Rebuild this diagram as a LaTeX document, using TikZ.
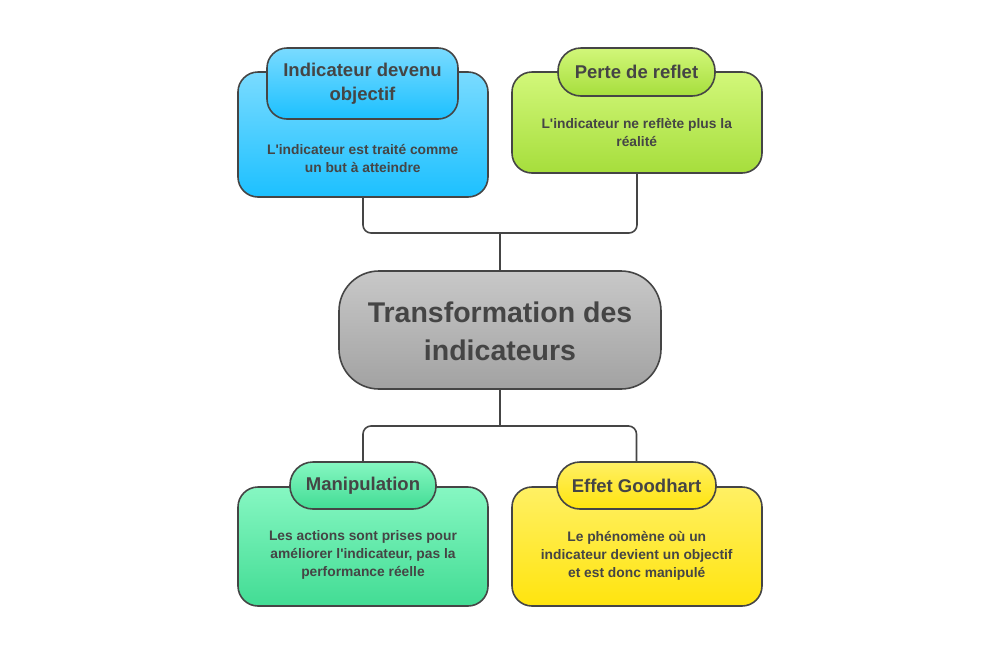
\documentclass[tikz,border=0pt]{standalone}
\usepackage{fontspec}
\setmainfont{Liberation Sans}
\usetikzlibrary{calc}
\definecolor{ink}{HTML}{454545}
\definecolor{skyA}{HTML}{7ADBFF}
\definecolor{skyB}{HTML}{1CC0FF}
\definecolor{limeA}{HTML}{D2F77A}
\definecolor{limeB}{HTML}{A6DE3C}
\definecolor{mintA}{HTML}{86F7C2}
\definecolor{mintB}{HTML}{42DC94}
\definecolor{sunA}{HTML}{FFF064}
\definecolor{sunB}{HTML}{FFE40E}
\definecolor{greyA}{HTML}{C8C8C8}
\definecolor{greyB}{HTML}{A2A2A2}
\begin{document}
\begin{tikzpicture}[x=1pt,y=-1pt,
  box/.style={draw=ink,line width=1.6pt,rounded corners=20pt,inner sep=0pt},
  tab/.style={box,text=ink,align=center,font=\bfseries\fontsize{18.5}{24}\selectfont},
  note/.style={text=ink,align=center,font=\bfseries\fontsize{13.8}{18}\selectfont},
  wire/.style={draw=ink,line width=1.6pt,rounded corners=8pt},
  ]
\useasboundingbox (0,0) rectangle (1004,654);

\coordinate (topjoin) at (500,233);
\coordinate (lowjoin) at (500,426);

\node[box,rounded corners=40pt,top color=greyA,bottom color=greyB,
  minimum width=322pt,minimum height=118pt] (core) at (500,330) {};
\node[text=ink,align=center,font=\bfseries\fontsize{28.5}{38}\selectfont]
  at ($(core)+(0,1)$) {Transformation des\\indicateurs};

\node[box,top color=skyA,bottom color=skyB,minimum width=250pt,minimum height=125pt] (tlbox) at (363,134.5) {};
\node[tab,top color=skyA,bottom color=skyB,minimum width=191pt,minimum height=71pt] (tltab) at (362.5,83.5) {Indicateur devenu\\objectif};
\node[note] at ($(tltab.south)!0.5!(tlbox.south)$) {L\textquotesingle indicateur est traité comme\\un but à atteindre};

\node[box,top color=limeA,bottom color=limeB,minimum width=250pt,minimum height=101pt] (trbox) at (637,122.5) {};
\node[tab,rounded corners=23pt,top color=limeA,bottom color=limeB,minimum width=157pt,minimum height=48pt] (trtab) at (636.5,72) {Perte de reflet};
\node[note] at ($(trtab.south)!0.47!(trbox.south)$) {L\textquotesingle indicateur ne reflète plus la\\réalité};

\node[box,top color=mintA,bottom color=mintB,minimum width=250pt,minimum height=119pt] (blbox) at (363,546.5) {};
\node[tab,rounded corners=23pt,top color=mintA,bottom color=mintB,minimum width=146pt,minimum height=47pt] (bltab) at (363,485.5) {Manipulation};
\node[note] at ($(bltab.south)!0.47!(blbox.south)$) {Les actions sont prises pour\\améliorer l\textquotesingle indicateur, pas la\\performance réelle};

\node[box,top color=sunA,bottom color=sunB,minimum width=250pt,minimum height=119pt] (brbox) at (637,546.5) {};
\node[tab,rounded corners=23pt,top color=sunA,bottom color=sunB,minimum width=159pt,minimum height=47pt] (brtab) at (636.5,485.5) {Effet Goodhart};
\node[note] at ($(brtab.south)!0.47!(brbox.south)$) {Le phénomène où un\\indicateur devient un objectif\\et est donc manipulé};

\draw[wire] (tlbox.south) |- (topjoin) -| (trbox.south);
\draw[wire] (topjoin) -- (core.north);
\draw[wire] (core.south) -- (lowjoin);
\draw[wire] (bltab.north) |- (lowjoin) -| (brtab.north);
\end{tikzpicture}
\end{document}
